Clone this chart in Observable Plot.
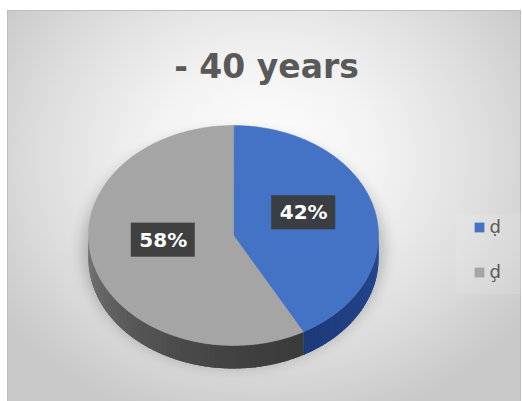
<!DOCTYPE html>
<html><head><meta charset="utf-8">
<script src="https://cdn.jsdelivr.net/npm/d3@7"></script>
<script src="https://cdn.jsdelivr.net/npm/@observablehq/plot@0.6"></script>
<style>
body{margin:0;background:#fff;}
#wrap{position:relative;width:522px;height:401px;overflow:hidden;}
#bg{position:absolute;left:7px;top:10px;width:514px;height:391px;box-sizing:border-box;border:1px solid #bdbdbd;border-bottom:none;
background:radial-gradient(ellipse 62% 70% at 50% 38%, #ffffff 0%, #f3f3f3 35%, #dedede 70%, #c9c9c9 100%);}
#chart{position:absolute;left:0;top:0;}
</style></head>
<body>
<div id="wrap"><div id="bg"></div><div id="chart"></div></div>
<script>
// ---- data ----
const title = "- 40 years";
const categories = ["ḍ", "ḑ"];
const values = [42, 58];
const labels = ["42%", "58%"];

// ---- style / layout ----
const W = 522, H = 401;
const topColors = ["#4472c4", "#a5a5a5"];
const cx = 233, cy = 235, rx = 145, ry = 110, depth = 23;

const total = d3.sum(values);
const rad = d => d * Math.PI / 180;
const px = t => cx + rx * Math.sin(rad(t));
const py = (t, h = 0) => cy - ry * Math.cos(rad(t)) + h;

// slice angle ranges (clockwise from top)
let acc = 0;
const slices = values.map((v, i) => {
  const a0 = acc / total * 360; acc += v; const a1 = acc / total * 360;
  return {i, a0, a1, cat: categories[i], label: labels[i]};
});

// top faces
const topPts = [];
for (const s of slices) {
  topPts.push({x: cx, y: cy, z: s.i, c: topColors[s.i]});
  for (let t = s.a0; t <= s.a1 + 1e-9; t += 1) topPts.push({x: px(t), y: py(t), z: s.i, c: topColors[s.i]});
  topPts.push({x: px(s.a1), y: py(s.a1), z: s.i, c: topColors[s.i]});
}

// side walls (front half: 90..270)
const sideColor = (i, t) => {
  if (i === 0) return d3.interpolateRgb("#27498f", "#1d397a")((t - 90) / 62);
  const u = (t - 151) / 119;
  return d3.interpolateRgb("#3b3b3b", "#7a7a7a")(Math.pow(Math.max(0, u), 1.6));
};
const basePts = [];
const sidePts = [];
let sid = 0;
for (const s of slices) {
  const lo = Math.max(s.a0, 90), hi = Math.min(s.a1, 270);
  // base wall polygon
  const c0 = sideColor(s.i, (lo + hi) / 2);
  for (let t = lo; t <= hi; t += 1) basePts.push({x: px(t), y: py(t), z: s.i, c: c0});
  for (let t = hi; t >= lo; t -= 1) basePts.push({x: px(t), y: py(t, depth), z: s.i, c: c0});
  for (let t = lo; t < hi; t += 2) {
    const t2 = Math.min(t + 2.6, hi);
    const c = sideColor(s.i, t + 1);
    sidePts.push({x: px(t), y: py(t), z: sid, c});
    sidePts.push({x: px(t2), y: py(t2), z: sid, c});
    sidePts.push({x: px(t2), y: py(t2, depth), z: sid, c});
    sidePts.push({x: px(t), y: py(t, depth), z: sid, c});
    sid++;
  }
}

// shadow ellipse
const shadowPts = d3.range(0, 361, 3).map(t => ({x: cx + (rx + 6) * Math.sin(rad(t)), y: cy + 14 + (ry + 8) * Math.cos(rad(t))}));

// data labels
const lab = slices.map(s => {
  const m = (s.a0 + s.a1) / 2;
  const x = cx + 0.5 * rx * Math.sin(rad(m));
  const y = cy - 0.5 * ry * Math.cos(rad(m)) - 9;
  return {x, y, label: s.label};
});

const legend = categories.map((c, i) => ({x: 479, y: 227 + i * 45, c: topColors[i], t: c}));

const plot = Plot.plot({
  width: W, height: H, margin: 0,
  x: {domain: [0, W], range: [0, W], axis: null},
  y: {domain: [0, H], range: [0, H], axis: null},
  color: {type: "identity"},
  style: {background: "transparent", fontFamily: "DejaVu Sans"},
  marks: [
    Plot.line(shadowPts, {x: "x", y: "y", curve: "linear-closed", fill: "#000", fillOpacity: 0.22, stroke: "none", imageFilter: "blur(7px)"}),
    Plot.line(basePts, {x: "x", y: "y", z: "z", fill: "c", stroke: "none", curve: "linear-closed"}),
    Plot.line(sidePts, {x: "x", y: "y", z: "z", fill: "c", stroke: "none", curve: "linear-closed"}),
    Plot.line(topPts, {x: "x", y: "y", z: "z", fill: "c", stroke: "c", strokeWidth: 0.5, curve: "linear-closed"}),
    Plot.rect(lab, {x1: d => d.x - 32, x2: d => d.x + 32, y1: d => d.y - 17, y2: d => d.y + 17, fill: "#3a3a3a", fillOpacity: 0.95}),
    Plot.text(lab, {x: "x", y: "y", text: "label", fill: "white", fontSize: 20, fontWeight: "bold"}),
    Plot.text([title], {frameAnchor: "top", dx: 5, dy: 77, text: d => d, fontSize: 33, fontWeight: "bold", fill: "#595959", lineAnchor: "bottom"}),
    Plot.rect([0], {x1: 456, x2: 521, y1: 214, y2: 294, fill: "#ffffff", fillOpacity: 0.12}),
    Plot.dot(legend, {x: "x", y: "y", symbol: "square", r: 5.5, fill: "c", stroke: "none"}),
    Plot.text(legend, {x: d => d.x + 10, y: "y", text: "t", textAnchor: "start", fontSize: 18, fill: "#595959"})
  ]
});
document.getElementById("chart").appendChild(plot);
</script>
</body></html>
